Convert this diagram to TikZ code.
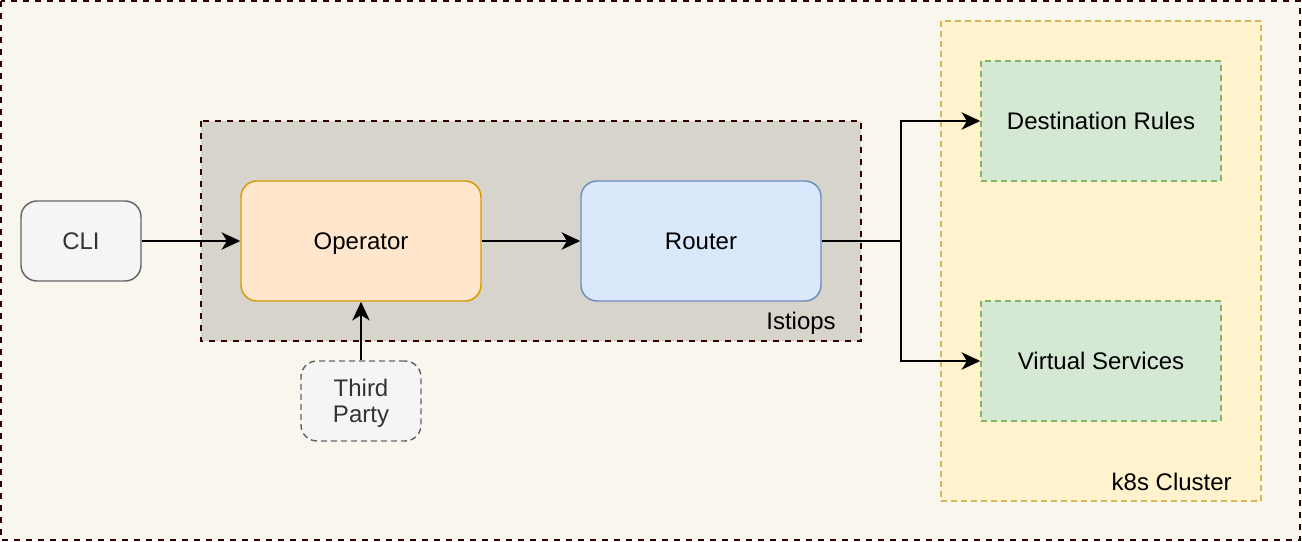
\documentclass[tikz,border=0pt]{standalone}
\usepackage{fontspec}
\setmainfont{Liberation Sans}
\usetikzlibrary{positioning}
\usetikzlibrary{arrows.meta}

\definecolor{pagefill}{HTML}{F9F7ED}
\definecolor{darkline}{HTML}{330000}
\definecolor{groupfill}{HTML}{D7D4CC}
\definecolor{greyfill}{HTML}{F5F5F5}
\definecolor{greyline}{HTML}{666666}
\definecolor{greytext}{HTML}{333333}
\definecolor{orangefill}{HTML}{FFE6CC}
\definecolor{orangeline}{HTML}{D79B00}
\definecolor{bluefill}{HTML}{DAE8FC}
\definecolor{blueline}{HTML}{6C8EBF}
\definecolor{yellowfill}{HTML}{FFF2CC}
\definecolor{yellowline}{HTML}{D6B656}
\definecolor{greenfill}{HTML}{D5E8D4}
\definecolor{greenline}{HTML}{82B366}

\tikzset{
box/.style={draw, line width=1.1pt, align=center, inner sep=0pt, text depth=0pt, font=\fontsize{18}{20}\selectfont},
roundbox/.style={box, rounded corners=12pt},
dashbox/.style={box, dash pattern=on 4.5pt off 3pt},
flow/.style={line width=1.5pt, -{Stealth[length=14pt, width=13pt, inset=4pt]}},
labeltext/.style={inner sep=0pt, font=\fontsize{18}{20}\selectfont}
}

\begin{document}
\begin{tikzpicture}[x=0.75pt, y=-0.75pt]
\useasboundingbox (0,0) rectangle (1302,542);

% Frames
\draw[darkline, line width=1.5pt, dash pattern=on 4.5pt off 4.5pt, fill=pagefill] (1,1) rectangle (1300,540);
\draw[darkline, line width=1.5pt, dash pattern=on 4.5pt off 4.5pt, fill=groupfill] (201,121) rectangle (861,341);
\draw[yellowline, line width=1.1pt, dash pattern=on 4.5pt off 3pt, fill=yellowfill] (941,21) rectangle (1261,501);
\node[labeltext, anchor=east] (istiops_label) at (836,323) {Istiops};
\node[labeltext, anchor=east] (cluster_label) at (1232,482) {k8s Cluster};

% Boxes
\node[roundbox, draw=greyline, fill=greyfill, text=greytext, minimum width=90pt, minimum height=60pt] (cli) at (81,241) {CLI};
\node[roundbox, draw=orangeline, fill=orangefill, minimum width=180pt, minimum height=90pt] (operator) at (361,241) {Operator};
\node[roundbox, draw=blueline, fill=bluefill, minimum width=180pt, minimum height=90pt] (router) at (701,241) {Router};
\node[roundbox, dashbox, draw=greyline, fill=greyfill, text=greytext, text depth=0.5pt, minimum width=90pt, minimum height=60pt] (third_party) at (361,401) {Third\\Party};
\node[dashbox, draw=greenline, fill=greenfill, minimum width=180pt, minimum height=90pt] (dest_rules) at (1101,121) {Destination Rules};
\node[dashbox, draw=greenline, fill=greenfill, minimum width=180pt, minimum height=90pt] (virt_services) at (1101,361) {Virtual Services};

% Coordinates
\coordinate (router_split) at (901,241);

% Arrows
\draw[flow] (cli) -- (operator);
\draw[flow] (operator) -- (router);
\draw[flow] (third_party) -- (operator);
\draw[flow] (router) -- (router_split) |- (dest_rules);
\draw[flow] (router_split) |- (virt_services);

\end{tikzpicture}
\end{document}
